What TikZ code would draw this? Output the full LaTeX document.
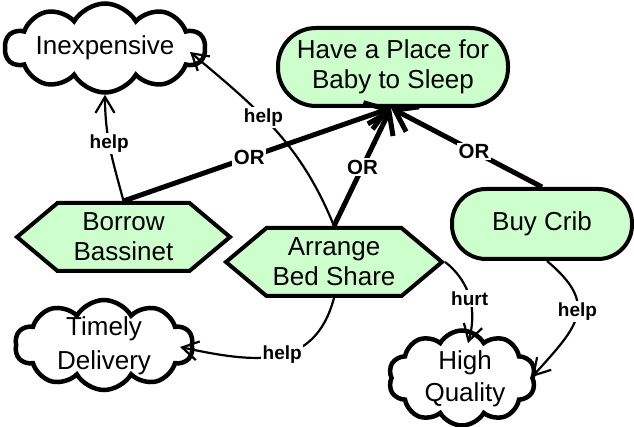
\documentclass[tikz,border=0pt]{standalone}
\usepackage{fontspec}
\setmainfont{Liberation Sans}
\usetikzlibrary{shapes.symbols,shapes.misc,arrows.meta}
\definecolor{goalgreen}{RGB}{204,255,204}

\begin{document}
\begin{tikzpicture}[x=1pt,y=1pt,
  base/.style={font=\fontsize{26}{30}\selectfont, align=center, inner sep=0pt},
  softgoal/.style={cloud, cloud puffs=10, cloud puff arc=120, cloud ignores aspect,
    draw, line width=4.5pt, fill=white, inner sep=0pt},
  hardgoal/.style={base, rectangle, draw, line width=4pt, fill=goalgreen},
  task/.style={base, signal, signal to=east and west, signal pointer angle=80,
    draw, line width=4pt, fill=goalgreen},
  orlink/.style={line width=5pt, -{Straight Barb[length=20pt,width=28pt]}},
  contrib/.style={line width=2.2pt, -{Straight Barb[length=16pt,width=19pt]}},
  lbl/.style={fill=white, inner sep=1.5pt, font=\fontsize{19}{22}\selectfont\bfseries},
  orlbl/.style={lbl, font=\fontsize{20.5}{22}\selectfont\bfseries},
]
\useasboundingbox (0,0) rectangle (634,-427);

% goals
\node[hardgoal, rounded corners=38pt, minimum width=230pt, minimum height=78pt]
  (place) at (393,-67) {Have a Place for\\Baby to Sleep};
\node[hardgoal, rounded corners=34pt, minimum width=180pt, minimum height=70pt]
  (buy) at (542,-224) {Buy Crib};

% tasks
\node[task, minimum width=213pt, minimum height=68pt] (borrow) at (123.5,-237) {Borrow\\Bassinet};
\node[task, minimum width=216pt, minimum height=68pt] (arrange) at (334,-262) {Arrange\\Bed Share};

% softgoals
\node[softgoal, minimum width=200pt, minimum height=89pt] (inex) at (105,-48) {};
\node[base] (inex-t) at (105,-48) {Inexpensive};
\node[softgoal, minimum width=178pt, minimum height=90pt] (timely) at (104,-345) {};
\node[base, font=\fontsize{26}{34}\selectfont] (timely-t) at (104,-346) {Timely\\Delivery};
\node[softgoal, minimum width=147pt, minimum height=95pt] (hq) at (462,-378) {};
\node[base, font=\fontsize{26}{32}\selectfont] (hq-t) at (465,-379) {High\\Quality};

% OR decomposition
\coordinate (hub) at ([xshift=-2pt]place.south);
\draw[orlink] (borrow.north) -- node[orlbl, pos=0.47] {OR} (hub);
\draw[orlink] (arrange.north) -- node[orlbl, pos=0.5] {OR} (hub);
\draw[orlink] (buy.north) -- node[orlbl, pos=0.45] {OR} (hub);

% contributions
\draw[contrib] (borrow.north) to[out=105, in=-90]
  node[lbl, pos=0.55] {help} (inex.south);
\draw[contrib] (arrange.north) to[out=112, in=-40]
  node[lbl, pos=0.58] {help} ([shift={(85,-4)}]inex.center);
\draw[contrib] (arrange.south) to[out=-105, in=-12, looseness=1.2]
  node[lbl, pos=0.47] {help} ([shift={(76,-2)}]timely.center);
\draw[contrib] (arrange.east) to[out=-38, in=74]
  node[lbl, pos=0.5] {hurt} ([shift={(6,35)}]hq.center);
\draw[contrib] ([xshift=5pt]buy.south) to[out=-40, in=48, looseness=1.5]
  node[lbl, pos=0.45] {help} ([shift={(70,1)}]hq.center);
\end{tikzpicture}
\end{document}
